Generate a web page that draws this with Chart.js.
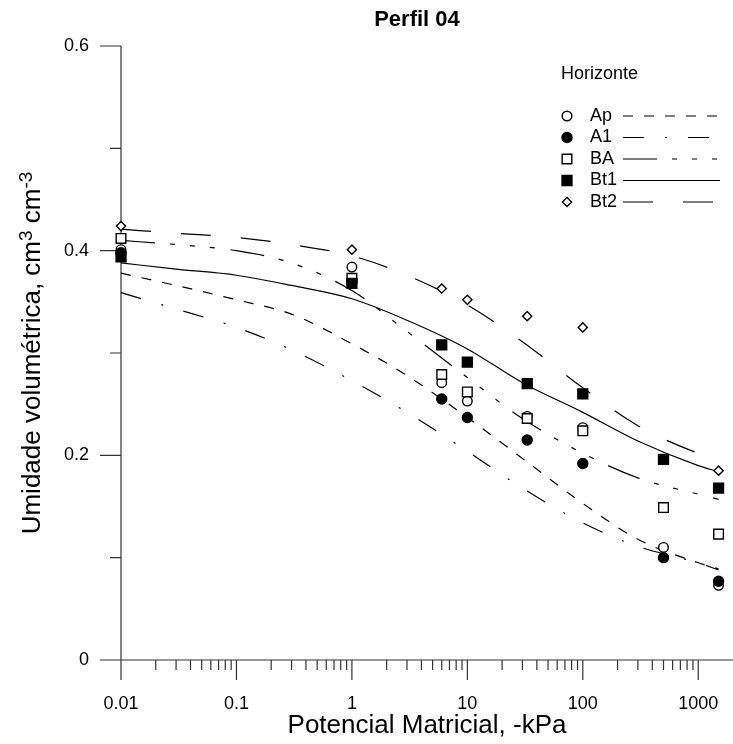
<!DOCTYPE html>
<html>
<head>
<meta charset="utf-8">
<title>Perfil 04</title>
<script src="https://cdn.jsdelivr.net/npm/chart.js@4.4.1/dist/chart.umd.min.js"></script>
<style>
  html, body { margin: 0; padding: 0; background: #fff; }
  #chart { display: block; }
</style>
</head>
<body>
<canvas id="chart" width="733" height="744"></canvas>
<script>
// ── Perfil 04: retention curves (observed points + fitted curves) ──

const seriesNames = ['Ap', 'A1', 'BA', 'Bt1', 'Bt2'];

// observed moisture at each matric potential (-kPa)
const obsX   = [0.01, 1, 6, 10, 33, 100, 500, 1500];
const obsAp  = [0.401, 0.384, 0.271, 0.253, 0.238, 0.227, 0.110, 0.073];
const obsA1  = [0.398, 0.370, 0.255, 0.237, 0.215, 0.192, 0.100, 0.077];
const obsBA  = [0.412, 0.373, 0.279, 0.262, 0.236, 0.224, 0.149, 0.123];
const obsBt1 = [0.394, 0.368, 0.308, 0.291, 0.270, 0.260, 0.196, 0.168];
const obsBt2 = [0.424, 0.401, 0.363, 0.352, 0.336, 0.325, 0.196, 0.185];

// fitted curves
const fitX   = [0.01, 0.03, 0.1, 0.3, 1, 3, 10, 30, 100, 300, 1000, 1500];
const fitAp  = [0.378, 0.366, 0.352, 0.338, 0.309, 0.278, 0.237, 0.197, 0.153, 0.118, 0.095, 0.089];
const fitA1  = [0.359, 0.343, 0.325, 0.303, 0.273, 0.242, 0.204, 0.168, 0.134, 0.111, 0.095, 0.088];
const fitBA  = [0.410, 0.406, 0.400, 0.388, 0.361, 0.321, 0.276, 0.236, 0.202, 0.178, 0.162, 0.157];
const fitBt1 = [0.388, 0.382, 0.376, 0.366, 0.353, 0.332, 0.304, 0.271, 0.242, 0.214, 0.190, 0.184];
const fitBt2 = [0.421, 0.417, 0.413, 0.406, 0.395, 0.376, 0.347, 0.311, 0.266, 0.229, 0.202, 0.196];

// axes
const xMajorTicks = [0.01, 0.1, 1, 10, 100, 1000];
const xTickLabels = ['0.01', '0.1', '1', '10', '100', '1000'];
const yMajorTicks = [0, 0.2, 0.4, 0.6];
const yMinorTicks = [0.1, 0.3, 0.5];
const yTickLabels = ['0', '0.2', '0.4', '0.6'];

// styles
const FONT = "'Liberation Sans', Arial, Helvetica, sans-serif";
const INK = '#000';
const AXIS = '#333';
const dashes = [[10, 11], [21, 21, 2, 21], [34, 15, 5, 15, 5, 15, 5, 16], [], [30, 30]];
const markers = [
  { style: 'circle', r: 4.8, fill: '#fff' },
  { style: 'circle', r: 5, fill: '#000' },
  { style: 'rect', r: 6.8, fill: '#fff' },
  { style: 'rect', r: 7, fill: '#000' },
  { style: 'rectRot', r: 4.6, fill: '#fff' }
];
const drawOrder = [4, 3, 2, 1, 5]; // lower = drawn on top

Chart.defaults.font.family = FONT;
Chart.defaults.color = INK;

const obsSeries = [obsAp, obsA1, obsBA, obsBt1, obsBt2];
const fitSeries = [fitAp, fitA1, fitBA, fitBt1, fitBt2];

// minor log ticks 2..9 in each decade
const xTicks = [];
xMajorTicks.forEach((d, i) => {
  xTicks.push({ value: d, major: true });
  if (i < xMajorTicks.length - 1) for (let k = 2; k <= 9; k++) xTicks.push({ value: d * k, major: false });
});
const yTicks = [...yMajorTicks.map(v => ({ value: v, major: true })), ...yMinorTicks.map(v => ({ value: v, major: false }))]
  .sort((a, b) => a.value - b.value);

function tickLabel(majors, labels, value) {
  const i = majors.findIndex(v => Math.abs(v - value) <= Math.abs(v) * 1e-6 + 1e-9);
  return i >= 0 ? labels[i] : '';
}

const datasets = [];
seriesNames.forEach((name, i) => {
  datasets.push({
    label: name,
    data: obsX.map((x, j) => ({ x, y: obsSeries[i][j] })),
    showLine: false,
    pointStyle: markers[i].style,
    pointRadius: markers[i].r,
    pointBackgroundColor: markers[i].fill,
    pointBorderColor: INK,
    pointBorderWidth: 1.4,
    order: drawOrder[i],
    clip: false
  });
});
seriesNames.forEach((name, i) => {
  datasets.push({
    label: name + ' ajuste',
    data: fitX.map((x, j) => ({ x, y: fitSeries[i][j] })),
    showLine: true,
    borderColor: INK,
    borderWidth: 1.2,
    borderDash: dashes[i],
    pointRadius: 0,
    fill: false,
    cubicInterpolationMode: 'monotone',
    order: 10,
    clip: false
  });
});

function drawMarker(ctx, m, x, y) {
  ctx.beginPath();
  if (m.style === 'circle') {
    ctx.arc(x, y, m.r, 0, Math.PI * 2);
  } else if (m.style === 'rect') {
    const s = Math.SQRT1_2 * m.r;
    ctx.rect(x - s, y - s, 2 * s, 2 * s);
  } else {
    ctx.moveTo(x - m.r, y); ctx.lineTo(x, y - m.r); ctx.lineTo(x + m.r, y); ctx.lineTo(x, y + m.r);
    ctx.closePath();
  }
  ctx.fillStyle = m.fill;
  ctx.fill();
  ctx.lineWidth = 1.4;
  ctx.strokeStyle = INK;
  ctx.stroke();
}

const framePlugin = {
  id: 'frame',
  beforeDatasetsDraw(chart) {
    const { ctx, chartArea: a, scales: { x, y } } = chart;
    ctx.save();
    ctx.strokeStyle = AXIS;
    ctx.lineWidth = 1.2;
    ctx.beginPath();
    ctx.moveTo(a.left, a.top); ctx.lineTo(a.left, a.bottom);
    ctx.moveTo(a.left - 21, a.bottom); ctx.lineTo(a.right, a.bottom);
    x.ticks.forEach(t => {
      const px = x.getPixelForValue(t.value);
      ctx.moveTo(px, a.bottom); ctx.lineTo(px, a.bottom + (t.major ? 20 : 10));
    });
    y.ticks.forEach(t => {
      const py = y.getPixelForValue(t.value);
      ctx.moveTo(a.left, py); ctx.lineTo(a.left - (t.major ? 21 : 11), py);
    });
    ctx.stroke();
    ctx.restore();
  },
  afterDraw(chart) {
    const { ctx, chartArea: a } = chart;
    ctx.save();
    ctx.fillStyle = INK;

    // title
    ctx.font = 'bold 22px ' + FONT;
    ctx.textAlign = 'center';
    ctx.textBaseline = 'alphabetic';
    ctx.fillText('Perfil 04', 417, 26);

    // y title with raised exponents
    const parts = [
      { t: 'Umidade volumétrica, cm', sup: false },
      { t: '3', sup: true },
      { t: ' cm', sup: false },
      { t: '-3', sup: true }
    ];
    const fontOf = p => (p.sup ? '19px ' : '26px ') + FONT;
    let total = 0;
    parts.forEach(p => { ctx.font = fontOf(p); p.w = ctx.measureText(p.t).width; total += p.w; });
    ctx.translate(40, (a.top + a.bottom) / 2);
    ctx.rotate(-Math.PI / 2);
    ctx.textAlign = 'left';
    let cx = -total / 2;
    parts.forEach(p => {
      ctx.font = fontOf(p);
      ctx.fillText(p.t, cx, p.sup ? -8 : 0);
      cx += p.w;
    });
    ctx.setTransform(1, 0, 0, 1, 0, 0);

    // legend
    ctx.font = '18px ' + FONT;
    ctx.textAlign = 'left';
    ctx.textBaseline = 'alphabetic';
    ctx.fillText('Horizonte', 561, 79);
    seriesNames.forEach((name, i) => {
      const ry = 116 + i * 21.5;
      drawMarker(ctx, markers[i], 567, ry);
      ctx.fillStyle = INK;
      ctx.textBaseline = 'middle';
      ctx.fillText(name, 590, ry);
      ctx.beginPath();
      ctx.setLineDash(dashes[i]);
      ctx.lineWidth = 1.2;
      ctx.strokeStyle = INK;
      ctx.moveTo(623, ry); ctx.lineTo(720, ry);
      ctx.stroke();
      ctx.setLineDash([]);
    });
    ctx.restore();
  }
};

new Chart(document.getElementById('chart'), {
  type: 'scatter',
  data: { datasets },
  plugins: [framePlugin],
  options: {
    responsive: false,
    animation: false,
    devicePixelRatio: 1,
    events: [],
    layout: { autoPadding: false, padding: { top: 46, right: 0, bottom: 0, left: 0 } },
    plugins: { legend: { display: false }, title: { display: false }, tooltip: { enabled: false } },
    scales: {
      x: {
        type: 'logarithmic',
        min: 0.01,
        max: 2000,
        afterBuildTicks: s => { s.ticks = xTicks.map(t => ({ ...t })); },
        afterFit: s => { s.height = 84; s.paddingLeft = 0; s.paddingRight = 0; },
        grid: { display: false, drawTicks: false },
        border: { display: false },
        ticks: {
          autoSkip: false, maxRotation: 0, padding: 33,
          font: { size: 18 }, color: INK,
          callback: v => tickLabel(xMajorTicks, xTickLabels, v)
        },
        title: { display: true, text: 'Potencial Matricial, -kPa', font: { size: 26 }, color: INK, padding: { top: 0, bottom: 3 } }
      },
      y: {
        type: 'linear',
        min: 0,
        max: 0.6,
        afterBuildTicks: s => { s.ticks = yTicks.map(t => ({ ...t })); },
        afterFit: s => { s.width = 121; s.paddingTop = 0; s.paddingBottom = 0; },
        grid: { display: false, drawTicks: false },
        border: { display: false },
        ticks: {
          autoSkip: false, padding: 32,
          font: { size: 18 }, color: INK,
          callback: v => tickLabel(yMajorTicks, yTickLabels, v)
        }
      }
    }
  }
});
</script>
</body>
</html>
